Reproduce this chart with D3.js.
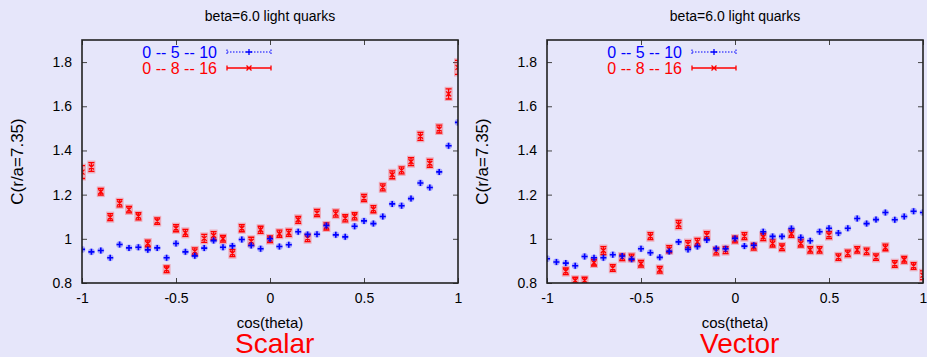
<!DOCTYPE html>
<html>
<head>
<meta charset="utf-8">
<script src="https://cdn.jsdelivr.net/npm/d3@7"></script>
<style>
  body { margin: 0; background: #e6e6fa; }
  text { font-family: "Liberation Sans", Arial, sans-serif; }
</style>
</head>
<body>
<div id="chart"></div>
<script>
// cos(theta) bins
const cosTheta = [-1, -0.95, -0.9, -0.85, -0.8, -0.75, -0.7, -0.65, -0.6, -0.55, -0.5,
  -0.45, -0.4, -0.35, -0.3, -0.25, -0.2, -0.15, -0.1, -0.05, 0,
  0.05, 0.1, 0.15, 0.2, 0.25, 0.3, 0.35, 0.4, 0.45, 0.5,
  0.55, 0.6, 0.65, 0.7, 0.75, 0.8, 0.85, 0.9, 0.95, 1];

const xTicks = [-1, -0.5, 0, 0.5, 1];
const yTicks = [0.8, 1, 1.2, 1.4, 1.6, 1.8];
const seriesNames = ['0 -- 5 -- 10', '0 -- 8 -- 16'];

// Scalar panel
const scalarBlue = [0.952, 0.941, 0.947, 0.914, 0.974, 0.959, 0.962, 0.950, 0.959, 0.914, 0.979,
  0.941, 0.923, 0.958, 0.992, 0.962, 0.968, 0.997, 0.970, 0.955, 1.000,
  0.965, 0.973, 1.032, 1.020, 1.021, 1.060, 1.018, 1.009, 1.057, 1.081,
  1.069, 1.101, 1.158, 1.150, 1.182, 1.253, 1.232, 1.303, 1.421, 1.527];
const scalarRed = [1.302, 1.325, 1.213, 1.098, 1.161, 1.132, 1.102, 0.979, 1.080, 0.862, 1.048,
  1.027, 0.943, 1.002, 1.015, 1.000, 0.935, 1.048, 0.989, 1.041, 0.998,
  1.023, 1.027, 1.086, 1.003, 1.117, 1.056, 1.114, 1.093, 1.102, 1.185,
  1.134, 1.233, 1.290, 1.310, 1.349, 1.464, 1.342, 1.497, 1.656, 1.776];
const scalarRedErr = [0.029, 0.02, 0.015, 0.016, 0.016, 0.015, 0.016, 0.015, 0.015, 0.015, 0.016,
  0.016, 0.016, 0.018, 0.018, 0.015, 0.016, 0.016, 0.018, 0.016, 0.015,
  0.016, 0.016, 0.016, 0.016, 0.016, 0.016, 0.016, 0.016, 0.016, 0.016,
  0.016, 0.016, 0.018, 0.016, 0.018, 0.018, 0.018, 0.018, 0.023, 0.032];

// Vector panel
const vectorBlue = [0.910, 0.895, 0.890, 0.878, 0.920, 0.914, 0.914, 0.928, 0.922, 0.908, 0.955,
  0.937, 0.916, 0.943, 0.986, 0.952, 0.965, 0.995, 0.956, 0.955, 1.002,
  0.967, 0.971, 1.032, 1.011, 1.011, 1.047, 1.006, 0.991, 1.032, 1.048,
  1.026, 1.048, 1.092, 1.069, 1.087, 1.119, 1.086, 1.101, 1.125, 1.119];
const vectorRed = [null, null, 0.853, 0.811, 0.811, 0.892, 0.947, 0.868, 0.916, 0.916, 0.887,
  1.012, 0.860, 0.953, 1.065, 0.976, 0.986, 1.017, 0.943, 0.949, 0.997,
  1.012, 0.964, 1.008, 0.979, 0.962, 1.023, 0.979, 0.950, 0.950, 1.017,
  0.917, 0.934, 0.950, 0.943, 0.917, 0.961, 0.886, 0.905, 0.877, 0.835];
const vectorRedErr = [0, 0, 0.015, 0.015, 0.015, 0.015, 0.018, 0.015, 0.015, 0.015, 0.015,
  0.016, 0.015, 0.016, 0.018, 0.016, 0.016, 0.016, 0.016, 0.016, 0.015,
  0.016, 0.015, 0.016, 0.016, 0.015, 0.016, 0.016, 0.015, 0.015, 0.016,
  0.015, 0.015, 0.015, 0.015, 0.015, 0.015, 0.015, 0.015, 0.015, 0.02];
const blueErr = 0.004;

const W = 927, H = 357;
const plotW = 376, plotTop = 40, plotBottom = 283;

const svg = d3.select('#chart').append('svg')
  .attr('width', W).attr('height', H);

svg.append('rect').attr('width', W).attr('height', H).attr('fill', '#e6e6fa');

function drawPanel(id, left, blue, red, redErr, name) {
  const x = d3.scaleLinear().domain([-1, 1]).range([left, left + plotW]);
  const y = d3.scaleLinear().domain([0.8, 1.9]).range([plotBottom, plotTop]);
  const g = svg.append('g');

  g.append('text')
    .attr('x', x(0)).attr('y', 21)
    .attr('text-anchor', 'middle')
    .style('font-size', '14px')
    .text('beta=6.0 light quarks');

  // axes, gnuplot style: inward ticks on all four sides
  const fmt = d => String(d);
  const ax = [
    g.append('g').attr('transform', `translate(${left},0)`)
      .call(d3.axisLeft(y).tickValues(yTicks).tickSize(-5).tickPadding(10).tickFormat(fmt)),
    g.append('g').attr('transform', `translate(${left + plotW},0)`)
      .call(d3.axisRight(y).tickValues(yTicks).tickSize(-5).tickFormat('')),
    g.append('g').attr('transform', `translate(0,${plotBottom})`)
      .call(d3.axisBottom(x).tickValues(xTicks).tickSize(-5).tickPadding(10).tickFormat(fmt)),
    g.append('g').attr('transform', `translate(0,${plotTop})`)
      .call(d3.axisTop(x).tickValues(xTicks).tickSize(-5).tickFormat(''))
  ];
  ax.forEach(a => {
    a.select('.domain').remove();
    a.selectAll('line').attr('stroke', '#444');
    a.selectAll('text').style('font-size', '14px').attr('fill', '#000');
  });

  g.append('text')
    .attr('transform', `translate(${left - 59},${(plotTop + plotBottom) / 2}) rotate(-90)`)
    .attr('text-anchor', 'middle')
    .style('font-size', '17px')
    .text('C(r/a=7.35)');

  g.append('text')
    .attr('x', x(0)).attr('y', 328)
    .attr('text-anchor', 'middle')
    .style('font-size', '15px')
    .text('cos(theta)');

  g.append('text')
    .attr('x', x(0) - 35).attr('y', 353)
    .attr('fill', '#ff0000')
    .style('font-size', '28px')
    .text(name);

  // data
  svg.append('clipPath').attr('id', 'clip' + id)
    .append('rect').attr('x', left).attr('y', plotTop).attr('width', plotW).attr('height', plotBottom - plotTop);
  const pts = g.append('g').attr('clip-path', `url(#clip${id})`);

  const redPts = cosTheta.map((c, i) => ({ c, v: red[i], e: redErr[i] })).filter(d => d.v != null);
  const bluePts = cosTheta.map((c, i) => ({ c, v: blue[i] }));

  const rg = pts.selectAll('.red').data(redPts).enter().append('g').attr('class', 'red');
  rg.append('rect')
    .attr('x', d => x(d.c) - 4)
    .attr('y', d => y(d.v + d.e) - 2)
    .attr('width', 8)
    .attr('height', d => y(d.v - d.e) - y(d.v + d.e) + 4)
    .attr('fill', 'rgba(255,0,0,0.25)');
  rg.append('path')
    .attr('d', d => {
      const cx = x(d.c), y1 = y(d.v + d.e), y2 = y(d.v - d.e), cy = y(d.v);
      return `M${cx},${y1}V${y2}M${cx - 3},${y1}H${cx + 3}M${cx - 3},${y2}H${cx + 3}` +
        `M${cx - 2.5},${cy - 2.5}L${cx + 2.5},${cy + 2.5}M${cx - 2.5},${cy + 2.5}L${cx + 2.5},${cy - 2.5}`;
    })
    .attr('stroke', '#ff0000').attr('stroke-width', 1.3).attr('fill', 'none');

  const bg = pts.selectAll('.blue').data(bluePts).enter().append('g').attr('class', 'blue');
  bg.append('circle')
    .attr('cx', d => x(d.c)).attr('cy', d => y(d.v)).attr('r', 3.4)
    .attr('fill', 'rgba(0,0,255,0.28)');
  bg.append('path')
    .attr('d', d => {
      const cx = x(d.c), cy = y(d.v), y1 = y(d.v + blueErr), y2 = y(d.v - blueErr);
      return `M${cx - 3},${cy}H${cx + 3}M${cx},${Math.min(cy - 3, y1)}V${Math.max(cy + 3, y2)}`;
    })
    .attr('stroke', '#0000ff').attr('stroke-width', 1.6).attr('fill', 'none');

  // legend
  const lx = left + 135;
  const l1 = left + 145, l2 = left + 189, lm = (l1 + l2) / 2;
  g.append('text').attr('x', lx).attr('y', 57.5).attr('text-anchor', 'end')
    .attr('fill', '#0000ff').style('font-size', '16px').text(seriesNames[0]);
  g.append('text').attr('x', lx).attr('y', 73.5).attr('text-anchor', 'end')
    .attr('fill', '#ff0000').style('font-size', '16px').text(seriesNames[1]);

  g.append('path')
    .attr('d', `M${l1},52H${l2}M${l1},49.5V54.5M${l2},49.5V54.5`)
    .attr('stroke', '#0000ff').attr('stroke-width', 1).attr('stroke-dasharray', '1.5,1.5').attr('fill', 'none');
  g.append('path')
    .attr('d', `M${lm - 3},52H${lm + 3}M${lm},49V55`)
    .attr('stroke', '#0000ff').attr('stroke-width', 1.3).attr('fill', 'none');
  g.append('path')
    .attr('d', `M${l1},68H${l2}M${l1},65.5V70.5M${l2},65.5V70.5` +
      `M${lm - 2.5},65.5L${lm + 2.5},70.5M${lm - 2.5},70.5L${lm + 2.5},65.5`)
    .attr('stroke', '#ff0000').attr('stroke-width', 1.3).attr('fill', 'none');

  // border
  g.append('rect')
    .attr('x', left).attr('y', plotTop).attr('width', plotW).attr('height', plotBottom - plotTop)
    .attr('fill', 'none').attr('stroke', '#222').attr('stroke-width', 1.6);
}

drawPanel('s', 82, scalarBlue, scalarRed, scalarRedErr, 'Scalar');
drawPanel('v', 547, vectorBlue, vectorRed, vectorRedErr, 'Vector');
</script>
</body>
</html>
